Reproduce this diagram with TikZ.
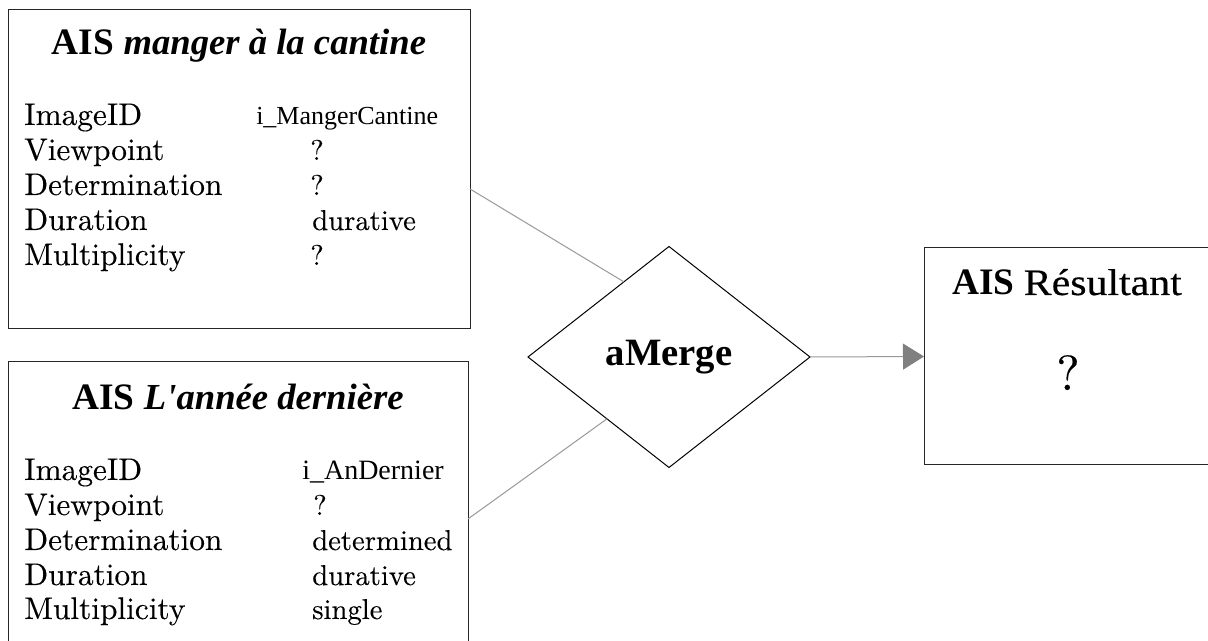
\documentclass[tikz,border=0pt]{standalone}
\usepackage{fontspec}
\usetikzlibrary{shapes.geometric,arrows.meta,calc}
\newfontfamily\lmr{lmroman10-regular}[Extension=.otf, FakeBold=0.2]
\newfontfamily\lsr{Liberation Serif}
\newfontfamily\lsrw{Liberation Serif}[FakeStretch=1.12, FakeBold=0.4]
\font\ttlit="Liberation Serif/BI" at 27.5pt
\tikzset{
  box/.style={draw=black!85, line width=0.75pt, fill=white, inner sep=0pt, outer sep=0pt},
  conn/.style={draw=black!40, line width=0.75pt},
  lab/.style={anchor=base west, inner sep=0pt, font=\lmr\fontsize{23.5}{28}\selectfont},
  val/.style={anchor=base west, inner sep=0pt, font=\lmr\fontsize{21.5}{26}\selectfont},
  ttl/.style={anchor=base, inner sep=0pt, font=\lsr\fontsize{28}{33}\selectfont},
  idv/.style={anchor=base west, inner sep=0pt, font=\lsr\fontsize{20}{24}\selectfont},
}
\begin{document}
\begin{tikzpicture}[x=0.75pt,y=-0.75pt]
\useasboundingbox (0,0) rectangle (1208,641);
\clip (0,0) rectangle (1208,641);
\fill[white] (0,0) rectangle (1208,641);
% boxes
\node[box, minimum width=346.5pt, minimum height=239.25pt] (tl) at (239,169.5) {};
\node[box, minimum width=345pt, minimum height=239.25pt] (bl) at (238,521.5) {};
\node[box, minimum width=216pt, minimum height=162.75pt] (rb) at (1068,356.5) {};
\node[draw=black, line width=0.75pt, fill=white, shape=diamond, inner sep=0pt, outer sep=0pt,
      minimum width=211.5pt, minimum height=165.75pt,
      font=\lsr\bfseries\fontsize{29}{34}\selectfont] (dm) at (669,357) {aMerge};
% titles
\node[ttl] (t1) at (239,55) {{\bfseries AIS} {\ttlit manger à la cantine}};
\node[ttl] (t2) at (238,410) {{\bfseries AIS} {\ttlit L'année dernière}};
\node[ttl] (t3) at (1067,295) {{\bfseries AIS} {\lsrw Résultant}};
\node[anchor=base, inner sep=0pt, font=\lmr\fontsize{37}{44}\selectfont] (rq) at (1068,390) {?};
% top box rows
\node[lab] (a1) at (24,125) {ImageID};
\node[lab] (a2) at (24,160) {Viewpoint};
\node[lab] (a3) at (24,195) {Determination};
\node[lab] (a4) at (24,230) {Duration};
\node[lab] (a5) at (24,265) {Multiplicity};
\node[idv, font=\lsr\fontsize{19.5}{24}\selectfont] (v1) at (256,125) {i\_MangerCantine};
\node[val] (v2) at (310,160) {?};
\node[val] (v3) at (310,195) {?};
\node[val] (v4) at (312,230) {durative};
\node[val] (v5) at (310,265) {?};
% bottom box rows
\node[lab] (b1) at (24,480) {ImageID};
\node[lab] (b2) at (24,515) {Viewpoint};
\node[lab] (b3) at (24,550) {Determination};
\node[lab] (b4) at (24,585) {Duration};
\node[lab] (b5) at (24,619) {Multiplicity};
\node[idv, font=\lsr\fontsize{21}{25}\selectfont] (w1) at (302,480) {i\_AnDernier};
\node[val] (w2) at (313,515) {?};
\node[val] (w3) at (312,550) {determined};
\node[val] (w4) at (312,585) {durative};
\node[val] (w5) at (312,619) {single};
% connectors
\coordinate (p1) at ($(tl.north east)!0.561!(tl.south east)$);
\coordinate (q1) at ($(dm.west)!0.68!(dm.north)$);
\coordinate (p2) at ($(bl.north east)!0.492!(bl.south east)$);
\coordinate (q2) at ($(dm.west)!0.56!(dm.south)$);
\draw[conn] (p1) -- (q1);
\draw[conn] (p2) -- (q2);
\draw[conn, -{Triangle[length=15.75pt, width=19.5pt, color=black!50]}] (dm.east) -- (rb.west);
\end{tikzpicture}
\end{document}
